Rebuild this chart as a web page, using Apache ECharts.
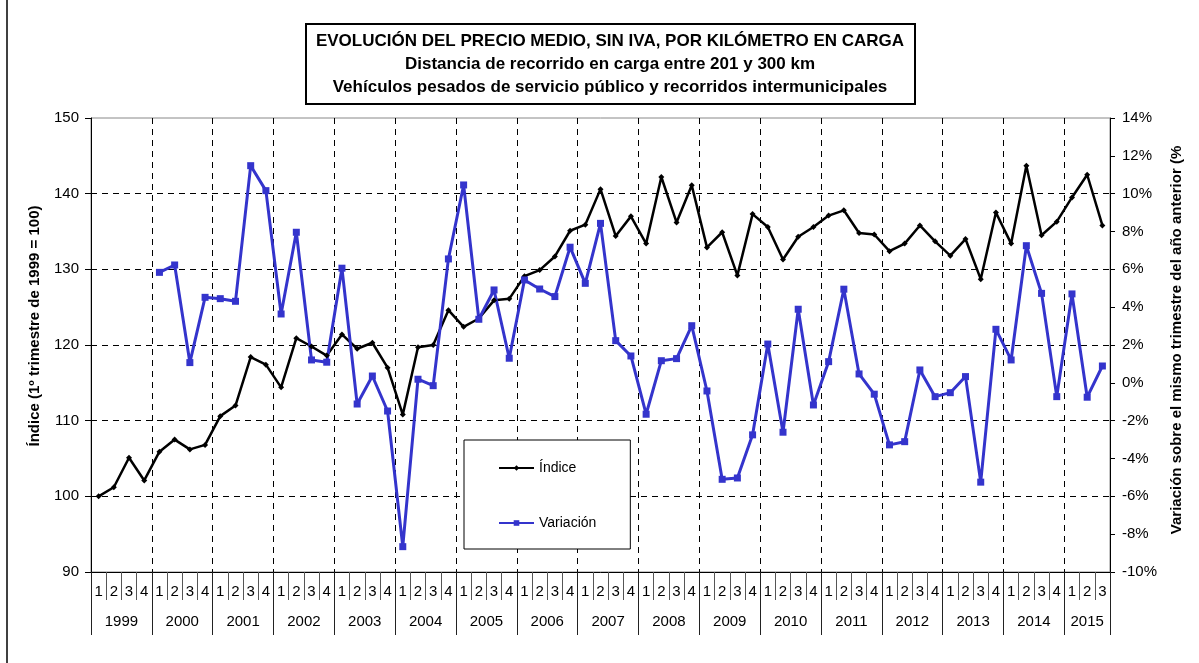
<!DOCTYPE html>
<html>
<head>
<meta charset="utf-8">
<script src="https://cdn.jsdelivr.net/npm/echarts@6/dist/echarts.min.js"></script>
<style>
  html, body { margin: 0; padding: 0; background: #fff; }
  #chart { width: 1199px; height: 663px; }
</style>
</head>
<body>
<div id="chart"></div>
<script>
const years = ['1999', '2000', '2001', '2002', '2003', '2004', '2005', '2006', '2007',
  '2008', '2009', '2010', '2011', '2012', '2013', '2014', '2015'];
const quartersPerYear = [4, 4, 4, 4, 4, 4, 4, 4, 4, 4, 4, 4, 4, 4, 4, 4, 3];

// índice (1er trimestre 1999 = 100)
const indice = [
  100.0, 101.2, 105.1, 102.1,
  105.9, 107.5, 106.2, 106.8,
  110.6, 112.0, 118.4, 117.4,
  114.4, 120.9, 119.8, 118.6,
  121.4, 119.5, 120.3, 117.0,
  110.8, 119.7, 120.0, 124.6,
  122.4, 123.5, 125.9, 126.1,
  129.1, 129.9, 131.7, 135.1,
  135.9, 140.6, 134.4, 137.0,
  133.4, 142.2, 136.2, 141.1,
  132.9, 134.9, 129.2, 137.3,
  135.6, 131.3, 134.3, 135.6,
  137.1, 137.8, 134.8, 134.6,
  132.4, 133.4, 135.8, 133.7,
  131.8, 134.0, 128.7, 137.5,
  133.4, 143.7, 134.5, 136.3,
  139.5, 142.5, 135.8
];

// variación sobre el mismo trimestre del año anterior (%)
const variacion = [
  null, null, null, null,
  5.84, 6.23, 1.07, 4.52,
  4.45, 4.31, 11.48, 10.16,
  3.64, 7.96, 1.21, 1.09,
  6.06, -1.12, 0.36, -1.49,
  -8.66, 0.19, -0.15, 6.55,
  10.46, 3.36, 4.91, 1.30,
  5.44, 4.96, 4.56, 7.17,
  5.26, 8.43, 2.23, 1.42,
  -1.66, 1.17, 1.28, 3.02,
  -0.43, -5.10, -5.03, -2.75,
  2.05, -2.61, 3.89, -1.17,
  1.12, 4.95, 0.47, -0.60,
  -3.28, -3.11, 0.68, -0.73,
  -0.52, 0.33, -5.25, 2.83,
  1.21, 7.25, 4.73, -0.73,
  4.70, -0.76, 0.89
];

const titleLines = [
  'EVOLUCIÓN DEL PRECIO MEDIO, SIN IVA, POR KILÓMETRO EN CARGA',
  'Distancia de recorrido en carga entre 201 y 300 km',
  'Vehículos pesados de servicio público y recorridos intermunicipales'
];

// quarter labels and year boundaries built from the lists above
const quarterLabels = [];
const yearBounds = [0];
const yearCenters = [];
let pos = 0;
quartersPerYear.forEach((n) => {
  for (let q = 1; q <= n; q++) quarterLabels.push(String(q));
  yearCenters.push(pos + n / 2);
  pos += n;
  yearBounds.push(pos);
});
const nQ = quarterLabels.length;

const FONT = '"Liberation Sans", Arial, sans-serif';
const chart = echarts.init(document.getElementById('chart'));

chart.setOption({
  animation: false,
  textStyle: { fontFamily: FONT, color: '#000' },
  grid: {
    left: 91, right: 89, top: 118, bottom: 91,
    show: true, borderColor: '#888', borderWidth: 1
  },
  legend: {
    orient: 'vertical',
    left: 464, top: 440,
    padding: [21, 34, 19, 34],
    itemGap: 41,
    itemWidth: 35, itemHeight: 7,
    borderColor: '#000', borderWidth: 1,
    backgroundColor: '#fff',
    textStyle: { fontSize: 14, color: '#000', fontFamily: FONT },
    data: ['Índice', 'Variación']
  },
  xAxis: [
    {
      type: 'category',
      data: quarterLabels,
      boundaryGap: true,
      axisLine: { onZero: false, lineStyle: { color: '#000', width: 1 } },
      axisTick: { show: true, interval: 0, length: 28, lineStyle: { color: '#555' } },
      axisLabel: { interval: 0, margin: 12, fontSize: 15, color: '#000' },
      splitLine: {
        show: true,
        interval: (i) => i % 4 === 0 && i > 0 && i < nQ,
        lineStyle: { color: '#000', type: [6, 5], width: 1 }
      }
    },
    {
      type: 'value',
      min: 0, max: nQ,
      position: 'bottom',
      axisLine: { show: false, onZero: false },
      splitLine: { show: false },
      axisTick: { show: true, customValues: yearBounds, length: 63, lineStyle: { color: '#222' } },
      axisLabel: {
        customValues: yearCenters,
        margin: 42, fontSize: 15, color: '#000',
        formatter: (v) => years[Math.floor(v / 4)]
      }
    }
  ],
  yAxis: [
    {
      type: 'value',
      min: 90, max: 150, interval: 10,
      axisLine: { show: true, lineStyle: { color: '#000' } },
      axisTick: { show: true, length: 6, lineStyle: { color: '#000' } },
      axisLabel: { margin: 12, fontSize: 15, color: '#000' },
      splitLine: {
        show: true, showMinLine: false, showMaxLine: false,
        lineStyle: { color: '#000', type: [6, 5], width: 1 }
      }
    },
    {
      type: 'value',
      position: 'right',
      min: -10, max: 14, interval: 2,
      axisLine: { show: true, lineStyle: { color: '#000' } },
      axisTick: { show: true, length: 5, lineStyle: { color: '#000' } },
      axisLabel: { margin: 12, fontSize: 15, color: '#000', formatter: '{value}%' },
      splitLine: { show: false }
    }
  ],
  series: [
    {
      name: 'Índice',
      type: 'line',
      xAxisIndex: 0, yAxisIndex: 0,
      data: indice,
      symbol: 'diamond', symbolSize: 6,
      lineStyle: { color: '#000', width: 2.5 },
      itemStyle: { color: '#000' }
    },
    {
      name: 'Variación',
      type: 'line',
      xAxisIndex: 0, yAxisIndex: 1,
      data: variacion,
      connectNulls: false,
      symbol: 'rect', symbolSize: 7,
      lineStyle: { color: '#3434CC', width: 3 },
      itemStyle: { color: '#3434CC' }
    }
  ],
  graphic: [
    {
      type: 'line',
      shape: { x1: 7, y1: 0, x2: 7, y2: 663 },
      style: { stroke: '#000', lineWidth: 1.5 }
    },
    {
      type: 'rect',
      shape: { x: 306, y: 24, width: 609, height: 80 },
      style: { fill: '#fff', stroke: '#000', lineWidth: 2 }
    },
    ...titleLines.map((t, i) => ({
      type: 'text',
      x: 610, y: 41 + i * 23,
      style: {
        text: t, font: 'bold 17px ' + FONT, fill: '#000',
        textAlign: 'center', textVerticalAlign: 'middle'
      }
    })),
    {
      type: 'text',
      x: 35, y: 326, rotation: Math.PI / 2,
      style: {
        text: 'Índice (1º trimestre de 1999 = 100)', font: 'bold 15px ' + FONT, fill: '#000',
        textAlign: 'center', textVerticalAlign: 'middle'
      }
    },
    {
      type: 'text',
      x: 1177, y: 340, rotation: Math.PI / 2,
      style: {
        text: 'Variación sobre el mismo trimestre del año anterior (%', font: 'bold 15px ' + FONT, fill: '#000',
        textAlign: 'center', textVerticalAlign: 'middle'
      }
    }
  ]
});
</script>
</body>
</html>
